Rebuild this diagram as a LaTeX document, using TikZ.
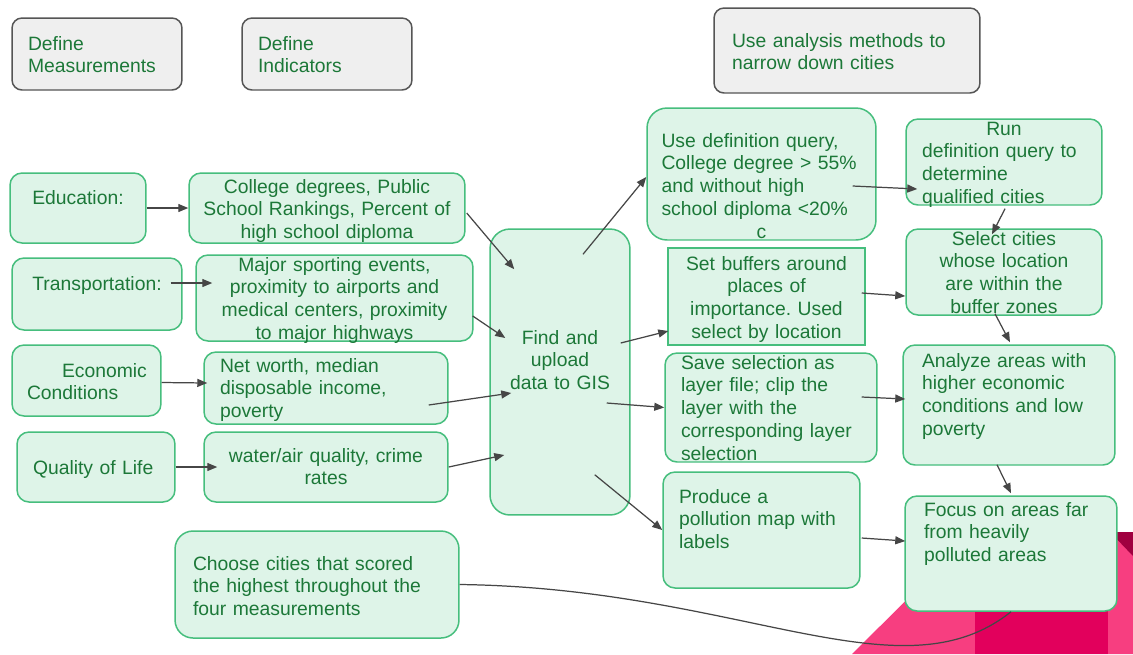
\documentclass[tikz,border=0pt]{standalone}
\usepackage{fontspec}
\setmainfont{Liberation Sans}
\usetikzlibrary{arrows.meta}
\frenchspacing

\definecolor{txtgreen}{RGB}{28,120,56}
\definecolor{boxfill}{RGB}{222,244,232}
\definecolor{boxline}{RGB}{70,190,125}
\definecolor{stagefill}{RGB}{239,239,239}
\definecolor{stageline}{RGB}{85,85,85}
\definecolor{arrowgray}{RGB}{70,70,70}
\definecolor{pinklight}{RGB}{247,62,128}
\definecolor{pinkmid}{RGB}{226,0,92}
\definecolor{pinkdark}{RGB}{160,0,64}

\tikzset{
  stage/.style={
    draw=stageline,
    fill=stagefill,
    line width=0.85pt,
    rounded corners=0.2cm,
    text=txtgreen,
    inner sep=0pt,
    text height=0.28cm
  },
  task/.style={
    draw=boxline,
    fill=boxfill,
    line width=0.85pt,
    rounded corners=0.24cm,
    text=txtgreen,
    inner sep=0pt,
    text height=0.28cm
  },
  flow/.style={
    draw=arrowgray,
    line width=0.7pt,
    -{Triangle[length=0.2cm, width=0.16cm]}
  },
  link/.style={
    draw=arrowgray,
    line width=0.7pt
  }
}

\begin{document}
\begin{tikzpicture}[x=0.02cm, y=-0.02cm, font=\fontsize{11}{13}\selectfont]

  %% ---- canvas and corner decoration ----
  \path[use as bounding box, fill=white] (0,0) rectangle (1133,654);
  \fill[pinklight] (852,654) -- (975,532) -- (1133,532) -- (1133,654) -- cycle;
  \fill[pinkmid]   (975,532) rectangle (1108,654);
  \fill[pinkdark]  (1110,532) -- (1133,532) -- (1133,556) -- cycle;

  %% ---- stage headers ----
  \node[stage, minimum width=3.4cm, minimum height=1.44cm, text width=2.76cm,
        text depth=0.44cm, align=left] (defm) at (97,54) {Define\\Measurements};
  \node[stage, minimum width=3.4cm, minimum height=1.44cm, text width=2.76cm,
        text depth=0.44cm, align=left] (defi) at (327,54) {Define\\Indicators};
  \node[stage, minimum width=5.32cm, minimum height=1.7cm, text width=4.6cm,
        text depth=0.42cm, align=left] (usean) at (847,50.5)
        {Use analysis methods to\\narrow down cities};

  %% ---- measurements ----
  \node[task, minimum width=2.72cm, minimum height=1.4cm, text width=2.4cm,
        text depth=0.44cm, align=center] (edu) at (78,208) {Education:};
  \node[task, minimum width=3.4cm, minimum height=1.44cm, text width=3.2cm,
        text depth=0.44cm, align=center] (trans) at (97,294) {Transportation:};
  \node[task, minimum width=2.98cm, minimum height=1.42cm, text width=2.38cm,
        text depth=0.42cm, align=left] (econ) at (86.5,380.5)
        {\makebox[\linewidth][l]{\hspace{0.7cm}Economic}\\Conditions};
  \node[task, minimum width=3.16cm, minimum height=1.4cm, text width=2.52cm,
        text depth=0cm, align=left] (qol) at (96,467) {Quality of Life};

  %% ---- indicators ----
  \node[task, minimum width=5.52cm, minimum height=1.4cm, text width=5.2cm,
        text depth=0.88cm, align=center] (coll) at (327,208)
        {College degrees, Public\\School Rankings, Percent of\\high school diploma};
  \node[task, minimum width=5.54cm, minimum height=1.72cm, text width=5.3cm,
        text depth=1.36cm, align=center] (sport) at (334.5,298)
        {Major sporting events,\\proximity to airports and\\medical centers, proximity\\to major highways};
  \node[task, minimum width=4.88cm, minimum height=1.44cm, text width=4.24cm,
        text depth=0.92cm, align=left] (net) at (326,388)
        {Net worth, median\\disposable income,\\poverty};
  \node[task, minimum width=4.88cm, minimum height=1.4cm, text width=4.6cm,
        text depth=0.48cm, align=center] (water) at (326,467)
        {water/air quality, crime\\rates};

  %% ---- data and result ----
  \node[task, rounded corners=0.4cm, minimum width=2.8cm, minimum height=5.72cm,
        text width=2.6cm, text depth=1.4cm, align=center] (find) at (560,372)
        {Find and\\upload\\data to GIS};
  \node[task, rounded corners=0.36cm, minimum width=5.68cm, minimum height=2.14cm,
        text width=4.96cm, text depth=0.86cm, align=left] (choose) at (317,584.5)
        {Choose cities that scored\\the highest throughout the\\four measurements};

  %% ---- analysis methods ----
  \node[task, rounded corners=0.4cm, minimum width=4.58cm, minimum height=2.64cm,
        text width=4.0cm, text depth=1.36cm, align=left] (usedef) at (761.5,174)
        {Use definition query,\\College degree > 55\%\\and without high\\school diploma <20\%\\\makebox[\linewidth]{c}};
  \node[task, sharp corners, minimum width=3.94cm, minimum height=1.94cm,
        text width=3.8cm, text depth=1.34cm, align=center] (buff) at (766.5,296.5)
        {Set buffers around\\places of\\importance. Used\\select by location};
  \node[task, minimum width=4.24cm, minimum height=2.18cm, text width=3.6cm,
        text depth=1.82cm, align=left] (save) at (771,407.5)
        {Save selection as\\layer file; clip the\\layer with the\\corresponding layer\\selection};
  \node[task, minimum width=3.94cm, minimum height=2.32cm, text width=3.3cm,
        text depth=1.36cm, align=left] (prod) at (761.5,530)
        {Produce a\\pollution map with\\labels};

  %% ---- narrowing steps ----
  \node[task, minimum width=3.92cm, minimum height=1.72cm, text width=3.28cm,
        text depth=1.36cm, align=left] (run) at (1004,162)
        {\makebox[\linewidth]{Run}\\definition query to\\determine\\qualified cities};
  \node[task, minimum width=3.92cm, minimum height=1.72cm, text width=3.7cm,
        text depth=1.36cm, align=center] (sel) at (1004,272)
        {Select cities\\whose location\\are within the\\buffer zones};
  \node[task, minimum width=4.24cm, minimum height=2.4cm, text width=3.48cm,
        text depth=1.8cm, align=left] (anal) at (1009,405)
        {Analyze areas with\\higher economic\\conditions and low\\poverty};
  \node[task, minimum width=4.24cm, minimum height=2.3cm, text width=3.48cm,
        text depth=1.78cm, align=left] (focus) at (1011,553.5)
        {Focus on areas far\\from heavily\\polluted areas};

  %% ---- measurement -> indicator ----
  \draw[flow] (edu.east) -- (coll.west);
  \draw[flow] ([shift={(-12,-11)}]trans.east) -- ([shift={(17,-15)}]sport.west);
  \draw[flow] ([shift={(0,2)}]econ.east) -- ([shift={(4,-5)}]net.west);
  \draw[flow] (qol.east) -- ([shift={(14,0)}]water.west);

  %% ---- indicator -> GIS ----
  \draw[flow] ([shift={(1,5)}]coll.east) -- ([shift={(25,41)}]find.north west);
  \draw[flow] ([shift={(-1,18)}]sport.east) -- ([shift={(16,-34)}]find.west);
  \draw[flow] ([shift={(-20,17)}]net.east) -- ([shift={(22,21)}]find.west);
  \draw[flow] (water.east) -- ([shift={(15,83)}]find.west);

  %% ---- GIS -> methods ----
  \draw[flow] ([shift={(23,26)}]find.north) -- ([shift={(0,3)}]usedef.west);
  \draw[flow] ([shift={(-10,-29)}]find.east) -- ([shift={(1,34.5)}]buff.west);
  \draw[flow] ([shift={(-24,31)}]find.east) -- (save.west);
  \draw[flow] ([shift={(-36,-41)}]find.south east) -- (prod.west);

  %% ---- methods -> narrowing ----
  \draw[flow] ([shift={(-24,12)}]usedef.east) -- ([shift={(12,27)}]run.west);
  \draw[flow] ([shift={(1,3)}]run.south) -- ([shift={(-12,6)}]sel.north);
  \draw[flow] ([shift={(-4,-3.5)}]buff.east) -- ([shift={(0,24)}]sel.west);
  \draw[flow] ([shift={(-9,-2)}]sel.south) -- ([shift={(1,-2)}]anal.north);
  \draw[flow] ([shift={(-16,-10.5)}]save.east) -- ([shift={(3,-6)}]anal.west);
  \draw[flow] ([shift={(-12,-1)}]anal.south) -- ([shift={(0,-2)}]focus.north);
  \draw[flow] ([shift={(1,8)}]prod.east) -- ([shift={(1,-12.5)}]focus.west);

  % final pick links back to the polluted-area step
  \draw[link] (choose.east) .. controls (740,588) and (900,700) .. (focus.south);

\end{tikzpicture}
\end{document}
